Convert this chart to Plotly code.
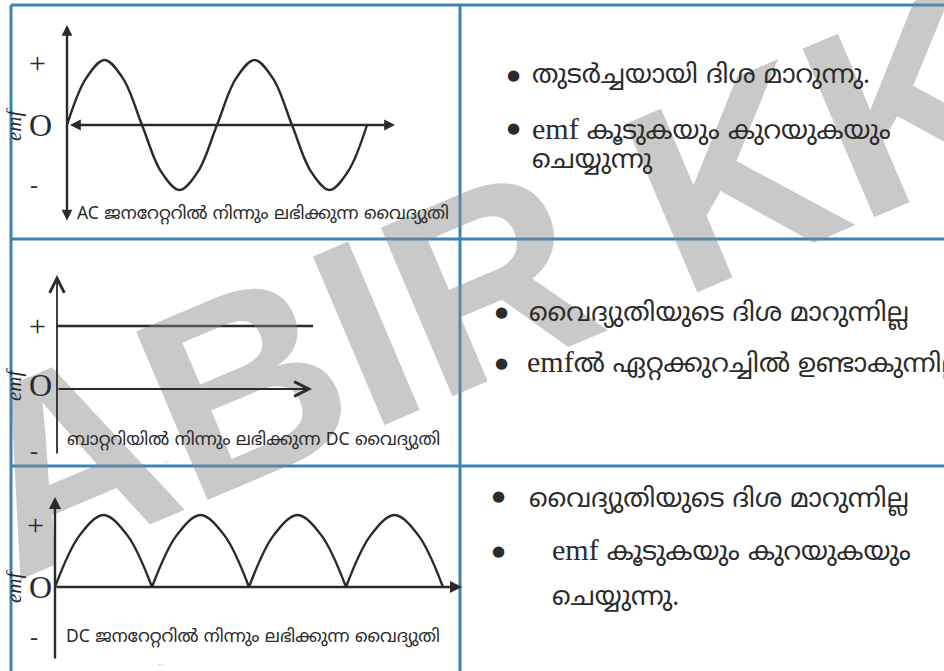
import plotly.graph_objects as go

W, H = 944, 671

# ---------------- data ----------------
# AC generator: phase in cycles, emf in units of peak value
ac_phase = [0, 0.125, 0.25, 0.375, 0.5, 0.625, 0.75, 0.875, 1.0,
            1.125, 1.25, 1.375, 1.5, 1.625, 1.75, 1.875, 2.0]
ac_emf = [0, 0.71, 1, 0.71, 0, -0.71, -1, -0.71, 0,
          0.71, 1, 0.71, 0, -0.71, -1, -0.71, 0]

# Battery DC: time (fraction of drawn span), emf
dc_time = [0, 1]
dc_emf = [1, 1]

# DC generator (rectified): one hump, phase in half cycles
hump_phase = [0, 0.25, 0.5, 0.75, 1.0]
hump_emf = [0, 0.71, 1, 0.71, 0]
n_humps = 4

tick_plus, tick_zero, tick_minus = "+", "O", "-"
y_label = "emf"

captions = [
    "AC ജനറേറ്ററിൽ നിന്നും ലഭിക്കുന്ന വൈദ്യുതി",
    "ബാറ്ററിയിൽ നിന്നും ലഭിക്കുന്ന DC വൈദ്യുതി",
    "DC ജനറേറ്ററിൽ നിന്നും ലഭിക്കുന്ന വൈദ്യുതി",
]

EMF = '<span style="font-family:Liberation Serif, DejaVu Serif, serif;font-size:30px">emf</span>'
row1_lines = ["തുടർച്ചയായി ദിശ മാറുന്നു.",
              EMF + " കൂടുകയും കുറയുകയും",
              "ചെയ്യുന്നു"]
row2_lines = ["വൈദ്യുതിയുടെ ദിശ മാറുന്നില്ല",
              EMF + "ൽ ഏറ്റക്കുറച്ചിൽ ഉണ്ടാകുന്നില്ല"]
row3_lines = ["വൈദ്യുതിയുടെ ദിശ മാറുന്നില്ല",
              EMF + " കൂടുകയും കുറയുകയും",
              "ചെയ്യുന്നു."]

watermark = "ABIR KK"

# ---------------- styles ----------------
INK = "#2b2b2b"
BORDER = "#3c83b6"
ML_FONT = "Noto Sans Malayalam, Noto Serif Malayalam, Noto Sans, DejaVu Sans, sans-serif"
SERIF = "Liberation Serif, DejaVu Serif, serif"

fig = go.Figure()

# graph frames: origin pixel and pixel-per-unit scales
graphs = {
    2: dict(ox=67, oy=125, sx=150, sy=65),
    3: dict(ox=57, oy=389, sx=256, sy=63),
    4: dict(ox=55, oy=587, sx=97, sy=72),
}

layout_axes = {}
layout_axes["xaxis"] = dict(range=[0, W], domain=[0, 1], visible=False, fixedrange=True)
layout_axes["yaxis"] = dict(range=[H, 0], domain=[0, 1], visible=False, fixedrange=True)
for k, g in graphs.items():
    layout_axes[f"xaxis{k}"] = dict(range=[(0 - g["ox"]) / g["sx"], (W - g["ox"]) / g["sx"]],
                                    domain=[0, 1], visible=False, anchor=f"y{k}", fixedrange=True)
    layout_axes[f"yaxis{k}"] = dict(range=[(g["oy"] - H) / g["sy"], g["oy"] / g["sy"]],
                                    domain=[0, 1], visible=False, anchor=f"x{k}", fixedrange=True)

line_style = dict(color=INK, width=2.4, shape="spline", smoothing=1.0)

fig.add_trace(go.Scatter(x=ac_phase, y=ac_emf, mode="lines", line=line_style,
                         xaxis="x2", yaxis="y2", hoverinfo="skip", showlegend=False,
                         cliponaxis=False))
fig.add_trace(go.Scatter(x=dc_time, y=dc_emf, mode="lines", line=dict(color=INK, width=2.4),
                         xaxis="x3", yaxis="y3", hoverinfo="skip", showlegend=False,
                         cliponaxis=False))
rx, ry = [], []
for i in range(n_humps):
    rx += [p + i for p in hump_phase] + [None]
    ry += hump_emf + [None]
fig.add_trace(go.Scatter(x=rx, y=ry, mode="lines", line=line_style, connectgaps=False,
                         xaxis="x4", yaxis="y4", hoverinfo="skip", showlegend=False,
                         cliponaxis=False))

annotations = []

# watermark first so it sits beneath the other texts
annotations.append(dict(x=488, y=280, xref="x", yref="y", text=f"<b>{watermark}</b>",
                        showarrow=False, textangle=-23,
                        font=dict(family="Liberation Sans, Arial, sans-serif", size=266,
                                  color="rgba(135,135,135,0.45)")))


def arrow(k, x0, y0, x1, y1, head=2, side="end", size=1.0, width=2.4):
    annotations.append(dict(x=x1, y=y1, ax=x0, ay=y0, xref=f"x{k}", yref=f"y{k}",
                            axref=f"x{k}", ayref=f"y{k}", showarrow=True, text="",
                            arrowhead=head, startarrowhead=head, arrowside=side,
                            arrowsize=size, startarrowsize=size,
                            arrowwidth=width, arrowcolor=INK))


g = graphs
arrow(2, 0, (g[2]["oy"] - 222) / g[2]["sy"], 0, (g[2]["oy"] - 25) / g[2]["sy"], head=2, side="end+start", size=0.9)
arrow(2, 0.01, 0, (395 - g[2]["ox"]) / g[2]["sx"], 0, head=2, side="end+start", size=0.9)
arrow(3, 0, (g[3]["oy"] - 455) / g[3]["sy"], 0, (g[3]["oy"] - 275) / g[3]["sy"], head=5, size=1.6, width=1.8)
arrow(3, 0, 0, (312 - g[3]["ox"]) / g[3]["sx"], 0, head=5, size=1.6, width=1.8)
arrow(4, 0, (g[4]["oy"] - 660) / g[4]["sy"], 0, (g[4]["oy"] - 497) / g[4]["sy"], head=2, size=1.0)
arrow(4, 0, 0, (462 - g[4]["ox"]) / g[4]["sx"], 0, head=2, size=1.0)


def txt(x, y, s, size, family=ML_FONT, anchor="left", angle=0, color=INK, yanchor="middle"):
    annotations.append(dict(x=x, y=y, xref="x", yref="y", text=s, showarrow=False,
                            xanchor=anchor, yanchor=yanchor, textangle=angle,
                            font=dict(family=family, size=size, color=color), align="left"))


for (yp, yo, ym, xp) in [(62, 125, 185, 37), (325, 385, 451, 37), (524, 587, 637, 35)]:
    txt(xp, yp, tick_plus, 30, SERIF, anchor="center")
    txt(40, yo, tick_zero, 32, SERIF, anchor="center")
    txt(34, ym, tick_minus, 24, SERIF, anchor="center")
    annotations.append(dict(x=14, y=yo, xref="x", yref="y", text=f"<i>{y_label}</i>",
                            showarrow=False, textangle=-90,
                            font=dict(family=SERIF, size=21, color=INK)))

# captions
txt(75, 214, captions[0], 17.5)
txt(65, 440, captions[1], 17.5)
txt(64, 637, captions[2], 17.5)
txt(166, 461, "··", 8, SERIF, anchor="center", color="#888")
txt(160, 664, "··", 8, SERIF, anchor="center", color="#888")

# right column bullets and lines
for (bx, by) in [(513, 75), (513, 128), (501, 312), (501, 363), (498, 496), (498, 551)]:
    txt(bx, by, "●", 15, "DejaVu Sans", anchor="center")

FS = 26
for (tx, ty, s) in [
    (530, 77, row1_lines[0]), (530, 130, row1_lines[1]), (530, 162, row1_lines[2]),
    (527, 315, row2_lines[0]), (525, 363, row2_lines[1]),
    (527, 501, row3_lines[0]), (550, 551, row3_lines[1]), (550, 599, row3_lines[2]),
]:
    txt(tx, ty, s, FS)

# table borders (pixel coords)
shapes = []
bl = dict(color=BORDER, width=3)
for (x0, y0, x1, y1) in [(11, 5, W + 5, 5), (11, 5, 11, H + 5), (460, 5, 460, H + 5),
                         (11, 239, W + 5, 239), (11, 466, W + 5, 466)]:
    shapes.append(dict(type="line", x0=x0, y0=y0, x1=x1, y1=y1, xref="x", yref="y",
                       line=bl, layer="above"))

fig.update_layout(width=W, height=H, autosize=False,
                  margin=dict(l=0, r=0, t=0, b=0, pad=0),
                  paper_bgcolor="white", plot_bgcolor="rgba(0,0,0,0)",
                  showlegend=False, annotations=annotations, shapes=shapes,
                  **layout_axes)

fig.write_html("out.html", config={"displayModeBar": False, "staticPlot": True},
               post_script="document.body.style.margin='0';document.body.style.overflow='hidden';")
